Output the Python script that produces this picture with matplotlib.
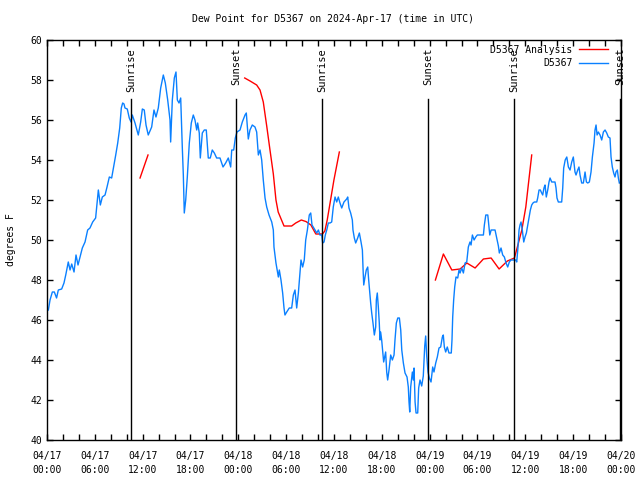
import matplotlib
matplotlib.use("Agg")
import matplotlib.pyplot as plt
import matplotlib.dates as mdates
import pandas as pd

# hours since 2024-04-17 00:00 UTC, dew point in degrees F
obs_hours = [0.17, 0.38, 0.67, 0.92, 1.2, 1.42, 1.84, 2.13, 2.35, 2.67, 2.89, 3.1, 3.39, 3.64, 3.89,
             4.14, 4.43, 4.77, 5.1, 5.39, 5.73, 6.1, 6.36, 6.44, 6.69, 6.94, 7.28, 7.53, 7.82, 8.11,
             8.36, 8.62, 8.87, 9.12, 9.32, 9.49, 9.66, 9.78, 10.07, 10.32, 10.54, 10.7, 11.04, 11.45,
             11.75, 11.96, 12.2, 12.42, 12.7, 13.13, 13.42, 13.67, 13.96, 14.26, 14.59, 14.84, 15.14,
             15.43, 15.51, 15.72, 15.97, 16.18, 16.35, 16.56, 16.77, 16.97, 17.1, 17.22, 17.4, 17.6,
             17.85, 18.1, 18.35, 18.56, 18.78, 18.9, 19.1, 19.23, 19.48, 19.73, 19.98, 20.23, 20.48,
             20.73, 20.99, 21.28, 21.7, 22.08, 22.41, 22.74, 23.04, 23.17, 23.42, 23.62, 23.83, 24.21,
             24.5, 24.84, 25.0, 25.25, 25.46, 25.75, 26.09, 26.3, 26.51, 26.72, 26.93, 27.13, 27.35,
             27.56, 27.85, 28.19, 28.39, 28.47, 28.72, 29.02, 29.14, 29.35, 29.56, 29.73, 29.85, 30.07,
             30.39, 30.69, 30.9, 31.11, 31.32, 31.53, 31.86, 32.07, 32.27, 32.45, 32.66, 32.9, 33.08,
             33.24, 33.62, 33.83, 34.04, 34.24, 34.46, 34.58, 34.75, 34.91, 35.09, 35.29, 35.5, 35.71,
             35.91, 36.13, 36.34, 36.54, 36.75, 36.97, 37.25, 37.59, 37.72, 37.88, 38.09, 38.3, 38.38,
             38.55, 38.72, 38.97, 39.18, 39.39, 39.56, 39.64, 39.73, 39.89, 40.05, 40.23, 40.35, 40.48,
             40.6, 40.73, 40.89, 41.06, 41.23, 41.31, 41.43, 41.56, 41.68, 41.77, 41.85, 41.98, 42.11,
             42.23, 42.36, 42.48, 42.61, 42.73, 42.9, 43.11, 43.32, 43.53, 43.65, 43.82, 44.0, 44.2,
             44.37, 44.5, 44.7, 44.91, 45.16, 45.32, 45.41, 45.5, 45.62, 45.83, 45.95, 46.04, 46.17,
             46.29, 46.5, 46.62, 46.79, 47.0, 47.2, 47.38, 47.5, 47.63, 47.79, 47.96, 48.17, 48.38,
             48.54, 48.76, 48.96, 49.17, 49.38, 49.59, 49.71, 49.84, 50.01, 50.21, 50.42, 50.71, 50.8,
             50.89, 51.01, 51.14, 51.3, 51.52, 51.68, 51.81, 52.02, 52.23, 52.44, 52.65, 52.85, 53.06,
             53.19, 53.36, 53.57, 53.78, 53.98, 54.74, 54.86, 55.04, 55.29, 55.41, 55.54, 55.71, 56.2,
             56.41, 56.62, 56.74, 56.95, 57.16, 57.37, 57.58, 57.79, 57.99, 58.2, 58.79, 58.92, 59.08,
             59.21, 59.33, 59.46, 59.62, 59.8, 59.96, 60.13, 60.3, 60.46, 60.63, 60.8, 60.96, 61.13,
             61.43, 61.55, 61.72, 61.88, 62.05, 62.18, 62.34, 62.47, 62.63, 62.81, 62.97, 63.1, 63.31,
             63.72, 63.85, 63.97, 64.14, 64.56, 64.69, 64.81, 65.0, 65.2, 65.4, 65.61, 65.82, 66.02,
             66.23, 66.36, 66.57, 66.73, 66.86, 67.07, 67.28, 67.49, 67.66, 67.83, 68.03, 68.24, 68.41,
             68.62, 68.74, 68.87, 69.0, 69.16, 69.37, 69.58, 69.79, 70.0, 70.21, 70.41, 70.62, 70.75,
             70.91, 71.08, 71.25, 71.37, 71.54, 71.67, 71.79]
obs_dewpt = [46.5, 47.0, 47.4, 47.4, 47.1, 47.5, 47.55, 47.85, 48.25, 48.9, 48.5, 48.8, 48.4, 49.25, 48.75,
             49.15, 49.6, 49.9, 50.5, 50.6, 50.9, 51.1, 52.2, 52.5, 51.75, 52.15, 52.25, 52.65, 53.15, 53.1,
             53.65, 54.25, 54.85, 55.6, 56.6, 56.85, 56.8, 56.6, 56.55, 56.1, 55.9, 56.25, 55.85, 55.25,
             55.9, 56.55, 56.5, 55.75, 55.25, 55.65, 56.5, 56.15, 56.6, 57.6, 58.25, 57.85, 57.0,
             56.0, 54.9, 57.0, 58.1, 58.4, 57.0, 56.85, 57.1, 54.65, 53.25, 51.35, 52.0, 53.15,
             54.85, 55.85, 56.25, 56.0, 55.5, 55.85, 55.35, 54.1, 55.35, 55.5, 55.5, 54.1, 54.1,
             54.5, 54.35, 54.1, 54.1, 53.65, 53.85, 54.1, 53.65, 54.5, 54.5, 55.1, 55.4, 55.5,
             55.9, 56.25, 56.35, 55.05, 55.5, 55.75, 55.65, 55.4, 54.25, 54.5, 54.0, 53.0, 52.1,
             51.65, 51.25, 50.9, 50.5, 49.65, 48.85, 48.15, 48.5, 48.0, 47.35, 46.6, 46.25, 46.4,
             46.6, 46.6, 47.25, 47.5, 46.6, 47.35, 49.0, 48.65, 49.0, 50.0, 50.5, 51.25, 51.35,
             50.75, 50.5, 50.35, 50.5, 50.25, 50.25, 49.85, 49.9, 50.25, 50.5, 50.85, 50.85, 50.9,
             51.65, 52.15, 51.9, 52.15, 51.85, 51.6, 51.9, 52.05, 52.15, 51.6, 51.35, 51.0, 50.5,
             50.1, 49.85, 50.1, 50.35, 49.9, 49.5, 48.6, 47.75, 48.15, 48.5, 48.65, 48.0, 47.4,
             46.85, 46.35, 45.85, 45.25, 45.65, 47.0, 47.35, 46.65, 45.85, 45.0, 45.4, 45.0, 44.4,
             43.9, 44.15, 44.4, 43.4, 43.0, 43.5, 44.25, 44.0, 44.25, 45.0, 45.85, 46.1, 46.1,
             45.5, 44.5, 43.85, 43.35, 43.15, 42.65, 41.9, 41.4, 42.65, 43.4, 43.0, 43.6, 41.9,
             41.35, 41.35, 42.6, 43.0, 42.7, 43.2, 44.7, 45.2, 44.2, 43.4, 43.1, 42.9, 43.65,
             43.4, 43.85, 44.15, 44.6, 44.65, 45.15, 45.25, 44.65, 44.4, 44.65, 44.35, 44.35, 45.0,
             46.15, 47.0, 47.65, 48.15, 48.1, 48.5, 48.35, 48.6, 48.35, 48.85, 48.9, 49.65, 49.9,
             49.75, 50.25, 50.0, 50.15, 50.25, 50.25, 50.75, 51.25, 51.25, 50.75, 50.25, 50.5, 50.5,
             50.1, 49.7, 49.35, 49.6, 49.25, 49.15, 48.85, 48.65, 48.9, 49.0, 49.0, 48.9, 49.65,
             50.5, 50.75, 50.9, 50.5, 49.9, 50.15, 50.35, 50.75, 51.15, 51.5, 51.75, 51.85, 51.9,
             51.9, 52.1, 52.5, 52.5, 52.35, 52.25, 52.6, 52.75, 52.15, 52.5, 52.9, 53.1, 52.9,
             52.9, 52.6, 52.1, 51.9, 51.9, 52.6, 53.6, 54.0, 54.15, 53.65, 53.5, 53.9, 54.15,
             53.4, 53.25, 53.5, 53.65, 53.25, 52.85, 52.85, 53.4, 52.9, 52.85, 52.9, 53.4, 54.15,
             54.85, 55.5, 55.75, 55.25, 55.4, 55.25, 55.0, 55.4, 55.5, 55.35, 55.15, 55.1, 54.15,
             53.65, 53.35, 53.15, 53.4, 53.5, 53.1, 52.85]

# analysis comes in three separate pieces
ana1_hours = [11.67, 12.67]
ana1_dewpt = [53.1, 54.25]
ana2_hours = [24.8, 25.47, 26.3, 26.72, 27.13, 27.56, 27.97, 28.39, 28.72, 29.0, 29.73, 30.69, 31.2,
              31.9, 32.5, 33.1, 33.72, 34.55, 34.85, 35.15, 35.57, 35.99, 36.67]
ana2_dewpt = [58.1, 57.95, 57.75, 57.5, 56.9, 55.7, 54.5, 53.3, 52.0, 51.4, 50.7, 50.7, 50.85,
              51.0, 50.92, 50.75, 50.3, 50.3, 50.45, 51.0, 52.0, 53.0, 54.4]
ana3_hours = [48.72, 49.72, 50.78, 51.82, 52.66, 53.7, 54.74, 55.71, 56.71, 57.75, 58.63, 59.0,
              59.56, 60.06, 60.4, 60.8]
ana3_dewpt = [48.0, 49.3, 48.5, 48.55, 48.85, 48.6, 49.05, 49.1, 48.55, 48.95, 49.1, 49.65,
              50.5, 51.65, 52.85, 54.25]

sun_hours = [10.54, 23.71, 34.5, 47.8, 58.58, 71.88]
sun_names = ["Sunrise", "Sunset", "Sunrise", "Sunset", "Sunrise", "Sunset"]

start = pd.Timestamp("2024-04-17 00:00")


def to_time(hours):
    return start + pd.to_timedelta(hours, unit="h")


plt.rcParams["font.family"] = "DejaVu Sans Mono"
plt.rcParams["font.size"] = 7

fig = plt.figure(figsize=(6.4, 4.8), dpi=100)
ax = fig.add_axes([47 / 640, 40 / 480, 574 / 640, 400 / 480])

red = "#ff0000"
blue = "#0a80ff"
ax.plot(to_time(ana1_hours), ana1_dewpt, color=red, lw=1, label="D5367 Analysis")
ax.plot(to_time(ana2_hours), ana2_dewpt, color=red, lw=1)
ax.plot(to_time(ana3_hours), ana3_dewpt, color=red, lw=1)
ax.plot(to_time(obs_hours), obs_dewpt, color=blue, lw=1, label="D5367")

for h, name in zip(sun_hours, sun_names):
    t = to_time(h)
    ax.plot([t, t], [40, 57.05], color="black", lw=1)
    ax.text(t, 59.6, name, rotation=90, ha="center", va="top", fontsize=7.5)

ax.set_xlim(start, start + pd.Timedelta(hours=72))
ax.set_ylim(40, 60)
ax.set_yticks(range(40, 61, 2))
ax.xaxis.set_major_locator(mdates.HourLocator(byhour=[0, 6, 12, 18]))
ax.xaxis.set_minor_locator(mdates.HourLocator(interval=2))
ax.xaxis.set_major_formatter(mdates.DateFormatter("%m/%d\n%H:%M"))
ax.tick_params(which="both", direction="in", top=True, right=True, length=4, width=1)
ax.tick_params(axis="x", pad=8)
for lbl in ax.get_xticklabels():
    lbl.set_linespacing(1.5)
for s in ax.spines.values():
    s.set_linewidth(1)

ax.set_ylabel("degrees F", labelpad=10)
fig.text(333 / 640, 1 - 19 / 480, "Dew Point for D5367 on 2024-Apr-17 (time in UTC)",
         ha="center", va="center", fontsize=7)

ax.legend(loc="upper right", frameon=False, markerfirst=False, handlelength=2.9,
          borderpad=0.2, borderaxespad=0.3, labelspacing=0.35, handletextpad=0.7, fontsize=7,
          bbox_to_anchor=(0.985, 1.0))

fig.savefig("out.png", dpi=100)
